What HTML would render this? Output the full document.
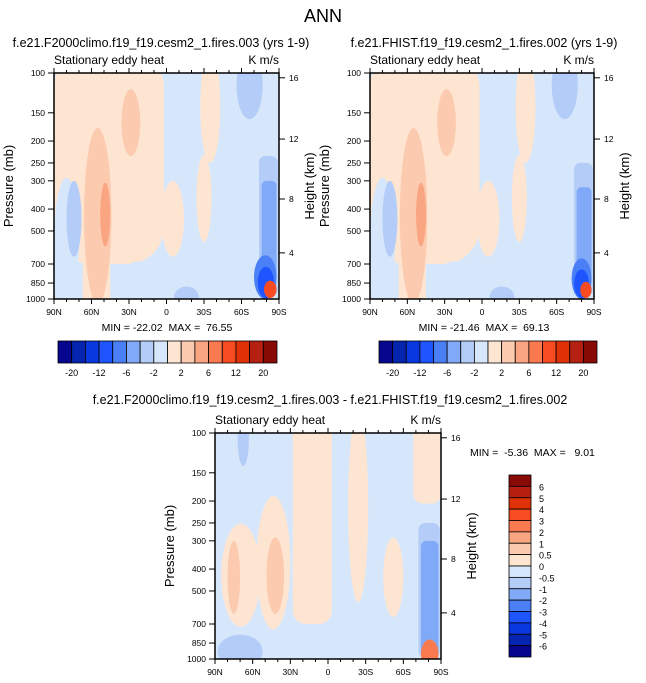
<!DOCTYPE html>
<html><head><meta charset="utf-8"><style>
html,body{margin:0;padding:0;background:#fff;}
svg{display:block;font-family:"Liberation Sans",Arial,sans-serif;}
text{white-space:pre;}
</style></head><body>
<svg id="s" width="646" height="683" viewBox="0 0 646 683">
<text x="323" y="22" font-size="18" text-anchor="middle">ANN</text>
</svg>
<script>
// ---- data ----
const colors = ["#06068f","#0525b0","#0a38e0","#1e55ff","#4a7ff5","#80aaf7","#b4cdf8","#d7e7fb","#fde5d2","#fccaae","#f9a582","#fa7a4f","#f84b22","#e13106","#b52010","#870a05"];
const pressureTicks = [100,150,200,250,300,400,500,700,850,1000];
const latTicks = [90,60,30,0,-30,-60,-90];
const latLabels = ["90N","60N","30N","0","30S","60S","90S"];
const heightTicks = [16,12,8,4];
const heightPressure = [105,196,361,625];
const cbLabels1 = ["-20","-12","-6","-2","2","6","12","20"];
const cbLabels3 = ["6","5","4","3","2","1","0.5","0","-0.5","-1","-2","-3","-4","-5","-6"];
// field blobs: [shape, lat1, lat2, pTop, pBottom, colorIndex]
const field1 = [
 ["r",90,2,80,700,8],["e",90,70,290,1100,7],["e",80,68,300,650,6],
 ["e",40,0,680,1100,7],["e",4,-14,300,650,8],["r",67,45,300,1100,8],
 ["e",66,44,175,1050,9],["e",36,21,118,233,9],["e",53,45,306,585,10],
 ["e",-27,-43,80,250,8],["e",-24,-36,230,560,8],["e",-56,-77,80,160,6],
 ["r",-74,-89,233,970,6],["r",-76,-88,300,800,5],["e",-70,-88,640,1000,4],["e",-73,-86,720,990,3],
 ["e",-78,-88,830,990,12],["e",-6,-26,880,1100,6]
];
const field2 = [
 ["r",90,2,80,700,8],["e",90,70,290,1100,7],["e",80,68,300,650,6],
 ["e",40,0,680,1100,7],["e",4,-14,300,650,8],["r",67,45,300,1100,8],
 ["e",66,44,175,1050,9],["e",36,21,118,233,9],["e",53,45,306,585,10],
 ["e",-27,-43,80,250,8],["e",-24,-36,230,560,8],["e",-56,-77,80,160,6],
 ["r",-74,-89,250,970,6],["r",-76,-88,320,800,5],["e",-72,-88,660,1000,4],["e",-74,-86,740,990,3],
 ["e",-79,-88,840,990,12],["e",-6,-26,880,1100,6]
];
const field3 = [
 ["e",85,54,252,720,8],["e",80,70,300,630,9],["e",57,30,190,740,8],
 ["e",49,35,290,630,9],["r",28,-3,80,700,8],["e",-16,-32,80,560,8],
 ["e",-44,-60,290,650,8],["r",-68,-90,80,205,8],["r",-72,-89,250,990,6],["r",-74,-88,300,950,5],
 ["e",-74,-88,820,1100,11],["e",88,52,780,1100,6],["e",72,63,80,140,6]
];
// ---- drawing ----
const NS="http://www.w3.org/2000/svg";
const svg=document.getElementById('s');
function el(tag,attrs,parent){const e=document.createElementNS(NS,tag);for(const k in attrs)e.setAttribute(k,attrs[k]);(parent||svg).appendChild(e);return e;}
function txt(x,y,s,size,anchor,parent){const t=el('text',{x:x,y:y,'font-size':size,'text-anchor':anchor||'start'},parent);t.textContent=s;return t;}

function panel(x0,y0,w,h,field,name,clipId){
  const g=el('g',{});
  
  
  const X=lat=>x0+(90-lat)/180*w;
  const Y=p=>y0+Math.log10(p/100)*h;
  const cp=el('clipPath',{id:clipId},g);el('rect',{x:x0,y:y0,width:w,height:h},cp);
  const fg=el('g',{'clip-path':'url(#'+clipId+')'},g);
  el('rect',{x:x0,y:y0,width:w,height:h,fill:colors[7]},fg);
  field.forEach(b=>{
    const xa=X(b[1]),xb=X(b[2]),ya=Y(b[3]),yb=Y(b[4]);
    let m;
    if(b[0]==='r') m=el('rect',{x:xa,y:ya,width:xb-xa,height:yb-ya,rx:(xb-xa)/3,fill:colors[b[5]]},fg);
    else m=el('ellipse',{cx:(xa+xb)/2,cy:(ya+yb)/2,rx:(xb-xa)/2,ry:(yb-ya)/2,fill:colors[b[5]]},fg);
    
    
  });
  el('rect',{x:x0,y:y0,width:w,height:h,fill:'none',stroke:'#000','stroke-width':1.5},g);
  pressureTicks.forEach(p=>{const y=Y(p);el('line',{x1:x0-6,x2:x0,y1:y,y2:y,stroke:'#000'},g);
    const t=txt(x0-9,y+3,String(p),8.5,'end',g);});
  heightTicks.forEach((hk,i)=>{const y=Y(heightPressure[i]);el('line',{x1:x0+w,x2:x0+w+6,y1:y,y2:y,stroke:'#000'},g);
    const t=txt(x0+w+10,y+3,String(hk),8.5,'start',g);});
  latTicks.forEach((l,i)=>{const x=X(l);el('line',{x1:x,x2:x,y1:y0,y2:y0-5,stroke:'#000'},g);el('line',{x1:x,x2:x,y1:y0+h,y2:y0+h+5,stroke:'#000'},g);
    const t=txt(x,y0+h+16,latLabels[i],8.5,'middle',g);});
  for(let l=80;l>-90;l-=10){if(l%30===0)continue;const x=X(l);el('line',{x1:x,x2:x,y1:y0,y2:y0-3,stroke:'#000'},g);el('line',{x1:x,x2:x,y1:y0+h,y2:y0+h+3,stroke:'#000'},g);}
  let t=txt(x0,y0-9,'Stationary eddy heat',12,'start',g);
  t=txt(x0+w,y0-9,'K m/s',12,'end',g);
  t=txt(0,0,'Pressure (mb)',13,'middle',g);t.setAttribute('transform','translate('+(x0-41)+','+(y0+h/2)+') rotate(-90)');
  
  t=txt(0,0,'Height (km)',13,'middle',g);t.setAttribute('transform','translate('+(x0+w+35)+','+(y0+h/2)+') rotate(-90)');
  
}
function hbar(x0,y0,w,h,name){
  const g=el('g',{});
  const bw=w/colors.length;
  colors.forEach((c,i)=>{const r=el('rect',{x:x0+i*bw,y:y0,width:bw,height:h,fill:c,stroke:'#000','stroke-width':0.8},g);
    });
  cbLabels1.forEach((s,i)=>{const t=txt(x0+(2*i+1)*bw,y0+h+13,s,9,'middle',g);});
}
function vbar(x0,y0,w,h,name){
  const g=el('g',{});
  const bh=h/colors.length;
  colors.slice().reverse().forEach((c,i)=>{const r=el('rect',{x:x0,y:y0+i*bh,width:w,height:bh,fill:c,stroke:'#000','stroke-width':0.8},g);
    });
  cbLabels3.forEach((s,i)=>{const t=txt(x0+w+8,y0+(i+1)*bh+4,s,9,'start',g);});
}
let t;
t=txt(161,47,'f.e21.F2000climo.f19_f19.cesm2_1.fires.003 (yrs 1-9)',12.5,'middle');
t=txt(484,47,'f.e21.FHIST.f19_f19.cesm2_1.fires.002 (yrs 1-9)',12.5,'middle');
t=txt(330,404,'f.e21.F2000climo.f19_f19.cesm2_1.fires.003 - f.e21.FHIST.f19_f19.cesm2_1.fires.002',12.5,'middle');
panel(54,73,225,226,field1,'panel-f2000climo','c1');
panel(370,73,224,226,field2,'panel-fhist','c2');
panel(215,433,226,226,field3,'panel-difference','c3');
t=txt(167,331,'MIN = -22.02  MAX =  76.55',10.5,'middle');
t=txt(484,331,'MIN = -21.46  MAX =  69.13',10.5,'middle');
t=txt(470,456,'MIN =  -5.36  MAX =   9.01',10.5,'start');
hbar(58,341,219,22,'colorbar-panel1');
hbar(379,341,218,22,'colorbar-panel2');
vbar(509,475,22,182,'colorbar-panel3');
</script>
</body></html>
